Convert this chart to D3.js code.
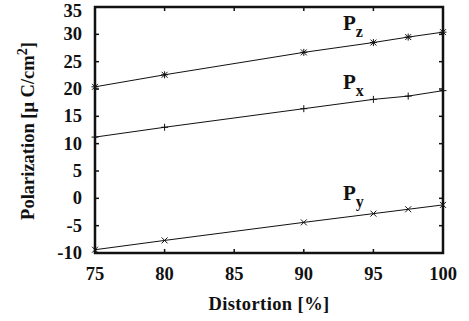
<!DOCTYPE html>
<html><head><meta charset="utf-8">
<script src="https://cdn.jsdelivr.net/npm/d3@7"></script>
<style>body{margin:0;background:#fff}svg{display:block}text{font-family:"Liberation Serif","Times New Roman",serif;font-weight:bold;fill:#111}</style>
</head><body><svg id="c" width="469" height="321"></svg>
<script>
const distortion = [75, 80, 90, 95, 97.5, 100];
const pz = [20.4, 22.6, 26.7, 28.5, 29.5, 30.4];
const px = [11.2, 13.0, 16.4, 18.1, 18.7, 19.7];
const py = [-9.4, -7.7, -4.4, -2.8, -2.0, -1.2];
const xTicks = [75, 80, 85, 90, 95, 100];
const yTicks = [-10, -5, 0, 5, 10, 15, 20, 25, 30, 35];
const series = [
  {name: "z", values: pz, marker: "star"},
  {name: "x", values: px, marker: "plus"},
  {name: "y", values: py, marker: "cross"}
];

const svg = d3.select("#c");
const L = 95, R = 443, T = 7, B = 253;
const x = d3.scaleLinear().domain([75, 100]).range([L, R]);
const y = d3.scaleLinear().domain([-10, 35]).range([B, T]);
const ink = "#111";

const tl = 4;
const g = svg.append("g");
xTicks.forEach(v => {
  g.append("line").attr("x1", x(v)).attr("x2", x(v)).attr("y1", B).attr("y2", B - tl).attr("stroke", ink).attr("stroke-width", 1.5);
  g.append("line").attr("x1", x(v)).attr("x2", x(v)).attr("y1", T).attr("y2", T + tl).attr("stroke", ink).attr("stroke-width", 1.5);
  g.append("text").attr("x", x(v)).attr("y", 280).attr("text-anchor", "middle").attr("font-size", 18.5).text(v);
});
yTicks.forEach(v => {
  g.append("line").attr("x1", L).attr("x2", L + tl).attr("y1", y(v)).attr("y2", y(v)).attr("stroke", ink).attr("stroke-width", 1.5);
  g.append("line").attr("x1", R).attr("x2", R - tl).attr("y1", y(v)).attr("y2", y(v)).attr("stroke", ink).attr("stroke-width", 1.5);
  g.append("text").attr("x", L - 13).attr("y", Math.max(y(v) + 6, 16.5)).attr("text-anchor", "end").attr("font-size", 18.5).text(v);
});

const line = d3.line().x(d => x(d[0])).y(d => y(d[1]));
series.forEach(s => {
  const pts = distortion.map((d, i) => [d, s.values[i]]);
  svg.append("path").attr("d", line(pts)).attr("fill", "none").attr("stroke", ink).attr("stroke-width", 1);
  pts.forEach(p => {
    const cx = x(p[0]), cy = y(p[1]), r = 3.5;
    const segs = [];
    if (s.marker === "plus" || s.marker === "star") { segs.push([cx - r, cy, cx + r, cy], [cx, cy - r, cx, cy + r]); }
    if (s.marker === "cross" || s.marker === "star") { const q = r * 0.85; segs.push([cx - q, cy - q, cx + q, cy + q], [cx - q, cy + q, cx + q, cy - q]); }
    segs.forEach(sg => svg.append("line").attr("x1", sg[0]).attr("y1", sg[1]).attr("x2", sg[2]).attr("y2", sg[3]).attr("stroke", ink).attr("stroke-width", 1));
  });
});

svg.append("rect").attr("x", L).attr("y", T).attr("width", R - L).attr("height", B - T).attr("fill", "none").attr("stroke", ink).attr("stroke-width", 2.5);

const labels = [{sub: "z", yb: 30}, {sub: "x", yb: 89}, {sub: "y", yb: 200}];
labels.forEach(l => {
  const t = svg.append("text").attr("x", 343).attr("y", l.yb).attr("font-size", 21);
  t.append("tspan").text("P");
  t.append("tspan").attr("dy", 7).attr("font-size", 16).text(l.sub);
});

svg.append("text").attr("x", 269).attr("y", 310).attr("text-anchor", "middle").attr("font-size", 18.5).attr("letter-spacing", 0.4).text("Distortion [%]");
const yt = svg.append("text").attr("transform", "translate(34,131) rotate(-90)").attr("text-anchor", "middle").attr("font-size", 18.5);
yt.append("tspan").text("Polarization [μ C/cm");
yt.append("tspan").attr("dy", -7).attr("font-size", 14).text("2");
yt.append("tspan").attr("dy", 7).text("]");
</script></body></html>
